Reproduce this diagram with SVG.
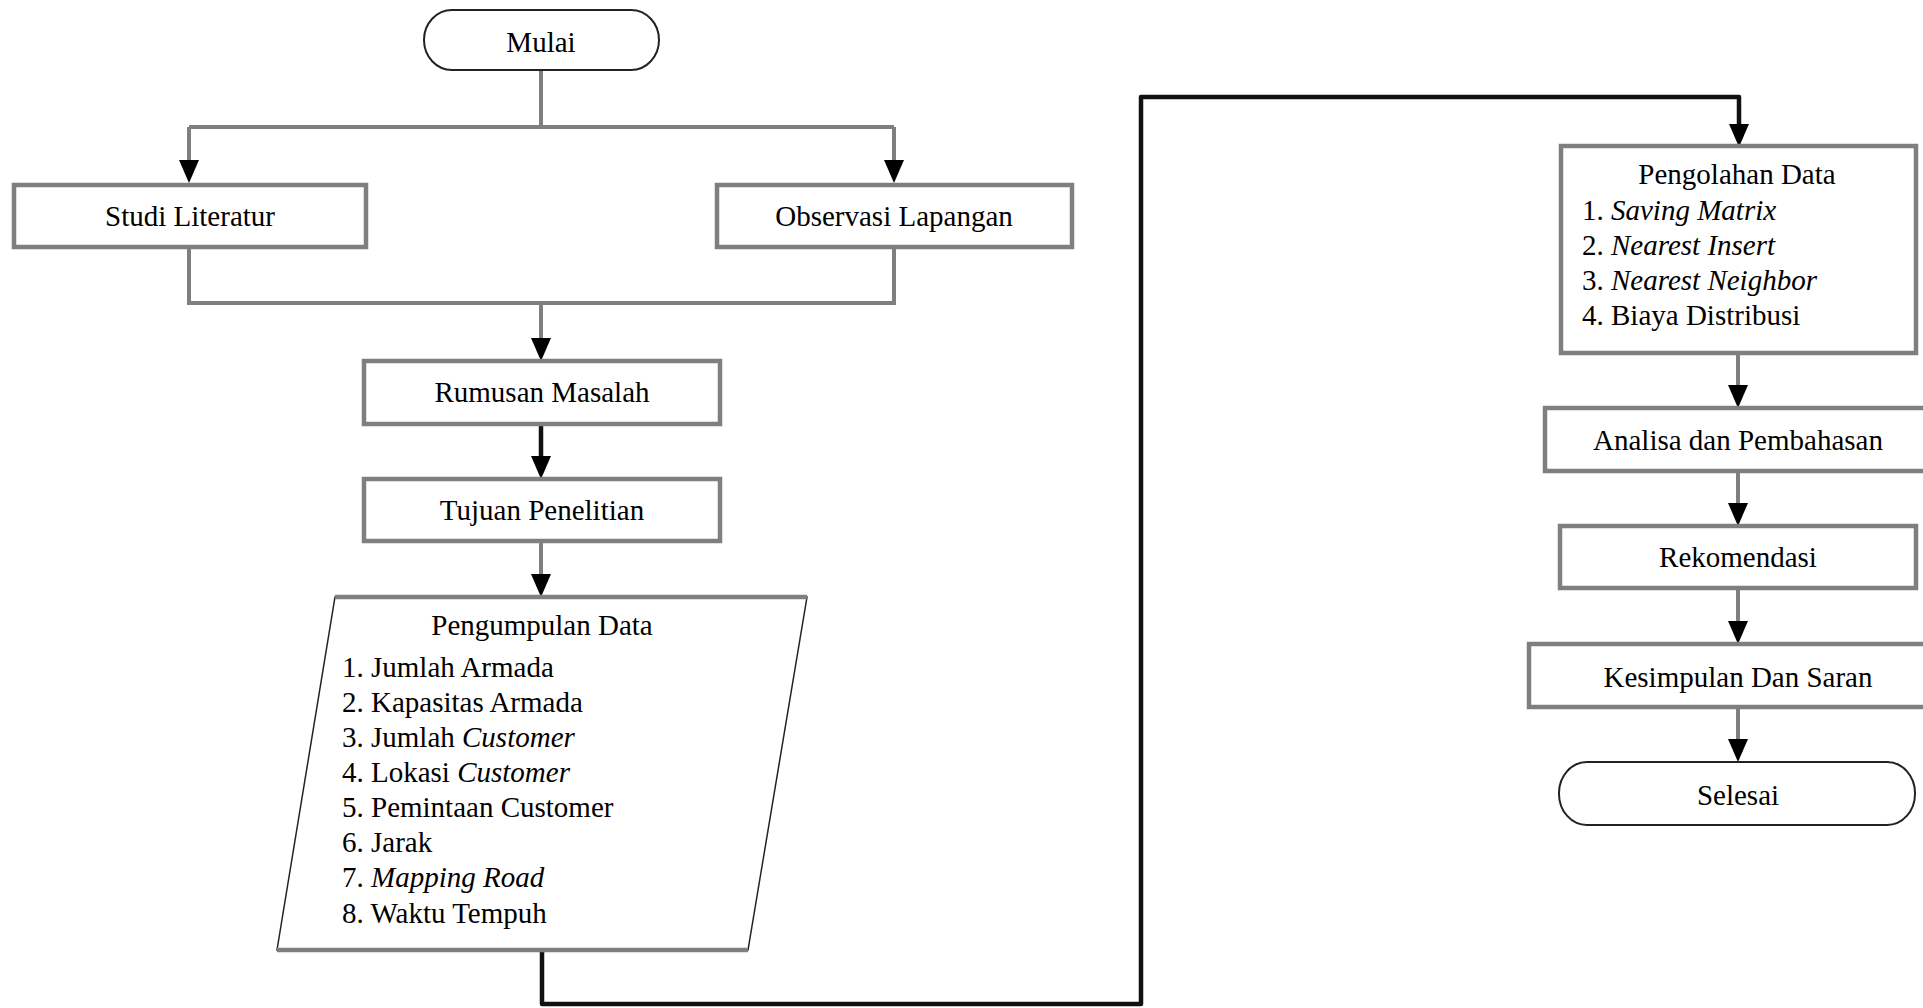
<svg xmlns="http://www.w3.org/2000/svg" width="1923" height="1008" viewBox="0 0 1923 1008">
<style>
text{font-family:"Liberation Serif","Times New Roman",serif;font-size:29px;fill:#000}
.c{text-anchor:middle}
.it{font-style:italic}
.box{fill:#fff;stroke:#7f7f7f;stroke-width:4.5}
.term{fill:#fff;stroke:#222;stroke-width:2}
.g{fill:none;stroke:#7f7f7f;stroke-width:4}
.k{fill:none;stroke:#111;stroke-width:4.5}
</style>
<defs>
<marker id="ah" markerUnits="userSpaceOnUse" markerWidth="24" markerHeight="22" refX="0" refY="10" orient="auto" overflow="visible">
<path d="M0,0 L23,10 L0,20 z" fill="#000"/>
</marker>
</defs>
<rect width="1923" height="1008" fill="#fff"/>
<g id="connectors">
<path class="g" d="M541,70 V127 M189,127 H894"/>
<path class="g" d="M189,127 V160" marker-end="url(#ah)"/>
<path class="g" d="M894,127 V160" marker-end="url(#ah)"/>
<path class="g" d="M189,247 V303 H894 V247"/>
<path class="g" d="M541,303 V338" marker-end="url(#ah)"/>
<path class="k" d="M541,424 V456" marker-end="url(#ah)"/>
<path class="g" d="M541,541 V574" marker-end="url(#ah)"/>
<path class="k" d="M542,950 V1004 H1141 V97 H1739 V124" marker-end="url(#ah)" stroke-linejoin="round"/>
<path class="g" d="M1738,353 V385" marker-end="url(#ah)"/>
<path class="g" d="M1738,471 V503" marker-end="url(#ah)"/>
<path class="g" d="M1738,588 V621" marker-end="url(#ah)"/>
<path class="g" d="M1738,707 V739" marker-end="url(#ah)"/>
</g>
<g id="mulai">
<rect class="term" x="424" y="10" width="235" height="60" rx="28" ry="30"/>
<text class="c" x="541" y="52">Mulai</text>
</g>
<g id="studi-literatur">
<rect class="box" x="14" y="185" width="352" height="62"/>
<text class="c" x="190" y="226">Studi Literatur</text>
</g>
<g id="observasi-lapangan">
<rect class="box" x="717" y="185" width="355" height="62"/>
<text class="c" x="894" y="226">Observasi Lapangan</text>
</g>
<g id="rumusan-masalah">
<rect class="box" x="364" y="361" width="356" height="63"/>
<text class="c" x="542" y="402">Rumusan Masalah</text>
</g>
<g id="tujuan-penelitian">
<rect class="box" x="364" y="479" width="356" height="62"/>
<text class="c" x="542" y="520">Tujuan Penelitian</text>
</g>
<g id="pengumpulan-data">
<polygon points="335,597 807,597 748,950 277,950" fill="#fff" stroke="#222" stroke-width="1.5"/>
<path d="M335,597 H807 M277,950 H748" stroke="#7f7f7f" stroke-width="4.5" fill="none"/>
<text class="c" x="542" y="635">Pengumpulan Data</text>
<text x="342" y="677">1. Jumlah Armada</text>
<text x="342" y="712">2. Kapasitas Armada</text>
<text x="342" y="747">3. Jumlah <tspan class="it">Customer</tspan></text>
<text x="342" y="782">4. Lokasi <tspan class="it">Customer</tspan></text>
<text x="342" y="817">5. Pemintaan Customer</text>
<text x="342" y="852">6. Jarak</text>
<text x="342" y="887">7. <tspan class="it">Mapping Road</tspan></text>
<text x="342" y="923">8. Waktu Tempuh</text>
</g>
<g id="pengolahan-data">
<rect class="box" x="1561" y="146" width="355" height="207"/>
<text class="c" x="1737" y="184">Pengolahan Data</text>
<text x="1582" y="220">1. <tspan class="it">Saving Matrix</tspan></text>
<text x="1582" y="255">2. <tspan class="it">Nearest Insert</tspan></text>
<text x="1582" y="290">3. <tspan class="it">Nearest Neighbor</tspan></text>
<text x="1582" y="325">4. Biaya Distribusi</text>
</g>
<g id="analisa-pembahasan">
<rect class="box" x="1545" y="408" width="386" height="63"/>
<text class="c" x="1738" y="450">Analisa dan Pembahasan</text>
</g>
<g id="rekomendasi">
<rect class="box" x="1560" y="526" width="356" height="62"/>
<text class="c" x="1738" y="567">Rekomendasi</text>
</g>
<g id="kesimpulan-saran">
<rect class="box" x="1529" y="644" width="418" height="63"/>
<text class="c" x="1738" y="687">Kesimpulan Dan Saran</text>
</g>
<g id="selesai">
<rect class="term" x="1559" y="762" width="356" height="63" rx="28" ry="31"/>
<text class="c" x="1738" y="805">Selesai</text>
</g>
</svg>
